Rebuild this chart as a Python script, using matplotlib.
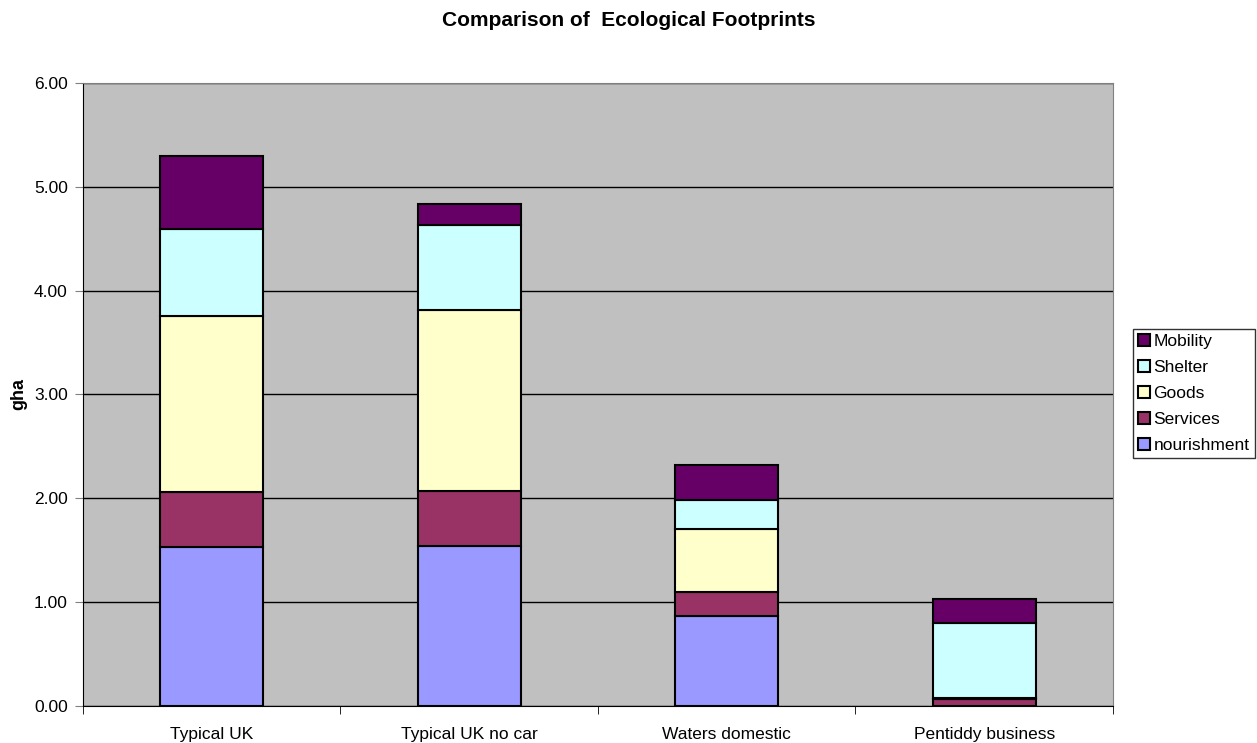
import matplotlib.pyplot as plt
import numpy as np

# data
categories = ["Typical UK", "Typical UK no car", "Waters domestic", "Pentiddy business"]
nourishment = [1.53, 1.54, 0.87, 0.00]
services = [0.53, 0.53, 0.23, 0.07]
goods = [1.70, 1.74, 0.60, 0.01]
shelter = [0.83, 0.82, 0.28, 0.72]
mobility = [0.71, 0.20, 0.34, 0.23]

series = [("nourishment", nourishment, "#9999FF"),
          ("Services", services, "#993366"),
          ("Goods", goods, "#FFFFCC"),
          ("Shelter", shelter, "#CCFFFF"),
          ("Mobility", mobility, "#660066")]

plt.rcParams['font.family'] = ['Liberation Sans', 'DejaVu Sans']

fig = plt.figure(figsize=(12.57, 7.43), dpi=100)
ax = fig.add_axes([0.066, 0.0498, 0.8194, 0.8385])
ax.set_facecolor("#C0C0C0")

x = np.arange(len(categories))
bottom = np.zeros(len(categories))
handles = []
for name, vals, col in series:
    b = ax.bar(x, vals, 0.4, bottom=bottom, color=col, edgecolor="black",
               linewidth=1.5, label=name, zorder=3)
    handles.append(b)
    bottom += np.array(vals)

ax.set_ylim(0, 6)
ax.set_xlim(-0.5, len(categories) - 0.5)
ax.set_yticks(np.arange(0, 6.01, 1))
ax.set_yticklabels(["%.2f" % v for v in np.arange(0, 6.01, 1)], fontsize=12.5)
ax.yaxis.grid(True, color="black", linewidth=1, zorder=0)
ax.set_axisbelow(True)

ax.set_xticks(x)
ax.set_xticklabels(categories, fontsize=12.5)
ax.tick_params(axis="x", length=0, pad=15)
ax.set_xticks(np.arange(-0.5, len(categories), 1), minor=True)
ax.tick_params(axis="x", which="minor", length=6, color="black")
ax.tick_params(axis="y", length=6, color="#808080", pad=5)

for s in ["top", "right"]:
    ax.spines[s].set_color("#808080")
ax.spines["left"].set_color("black")
ax.spines["bottom"].set_color("black")

ax.set_ylabel("gha", fontsize=13, fontweight="bold", labelpad=5)
fig.suptitle("Comparison of  Ecological Footprints", fontsize=15,
             fontweight="bold", y=0.985)

leg = ax.legend(handles[::-1], [s[0] for s in series][::-1], loc="center left",
                bbox_to_anchor=(1.019, 0.502), fontsize=12.5, frameon=True,
                fancybox=False, edgecolor="black", handlelength=0.7,
                handleheight=0.7, handletextpad=0.2, borderpad=0.3,
                labelspacing=0.62, borderaxespad=0)
leg.get_frame().set_linewidth(1)

fig.savefig("out.png", dpi=100)
